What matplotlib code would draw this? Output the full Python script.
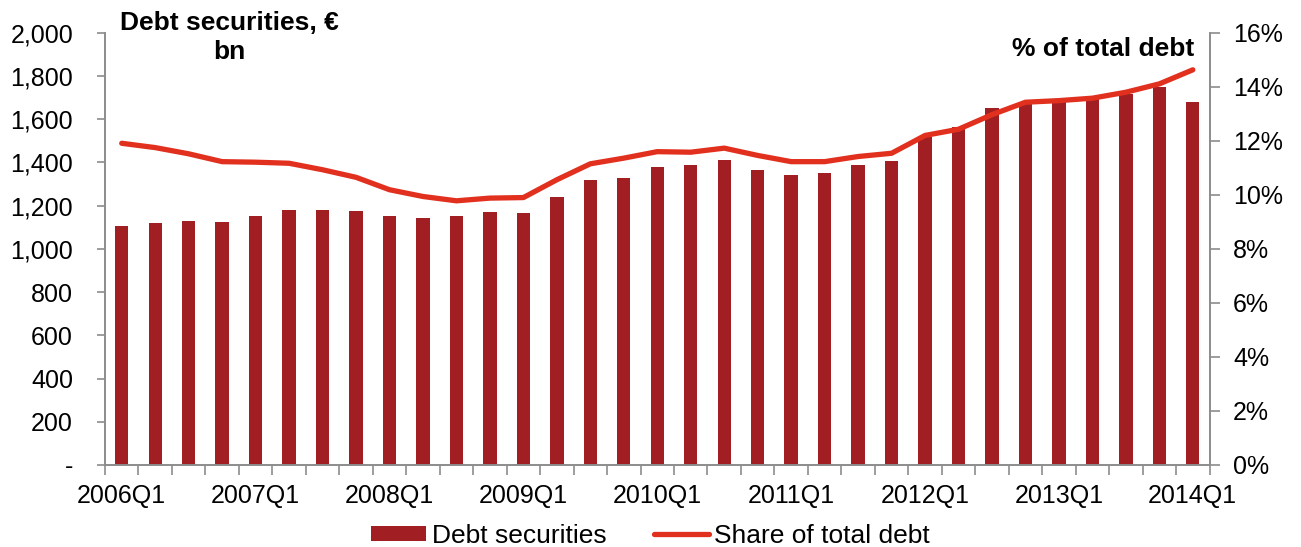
import matplotlib.pyplot as plt
import numpy as np
from matplotlib.ticker import FuncFormatter

plt.rcParams['font.family'] = ['Liberation Sans', 'DejaVu Sans']

# ------------------------- Data -------------------------

quarters = [f"{y}Q{q}" for y in range(2006, 2014) for q in range(1, 5)] + ["2014Q1"]

debt_securities = [1106, 1122, 1127, 1125, 1150, 1181, 1181, 1176, 1154, 1143, 1150,
                   1173, 1167, 1239, 1318, 1326, 1380, 1389, 1412, 1363, 1341, 1349,
                   1386, 1409, 1517, 1563, 1651, 1672, 1680, 1698, 1718, 1748, 1682]

share_total = [11.91, 11.75, 11.52, 11.23, 11.21, 11.17, 10.93, 10.65, 10.19, 9.94, 9.78,
               9.88, 9.90, 10.56, 11.15, 11.36, 11.60, 11.58, 11.73, 11.46, 11.23, 11.23,
               11.42, 11.54, 12.20, 12.43, 12.97, 13.43, 13.49, 13.58, 13.80, 14.11, 14.63]

bar_col = "#A11F22"
line_col = "#E2301F"
grey = "#8C8C8C"
fs = 18

# ------------------------- Plot -------------------------

fig = plt.figure(figsize=(13.01, 5.47), dpi=100)
ax = fig.add_axes([0.0807, 0.150, 0.849, 0.790])
ax2 = ax.twinx()

x = np.arange(len(quarters))
bars = ax.bar(x, debt_securities, width=0.4, color=bar_col, label="Debt securities", zorder=2)
line, = ax2.plot(x, share_total, color=line_col, lw=3.8, solid_capstyle='round',
                 label="Share of total debt", zorder=3)

ax.set_xlim(-0.5, len(quarters) - 0.5)
ax.set_ylim(0, 2000)
ax2.set_ylim(0, 16)

ax.set_yticks(np.arange(0, 2001, 200))
ax.yaxis.set_major_formatter(FuncFormatter(lambda v, p: "-" if v == 0 else f"{v:,.0f}"))
ax2.set_yticks(np.arange(0, 17, 2))
ax2.yaxis.set_major_formatter(FuncFormatter(lambda v, p: f"{v:.0f}%"))

ax.set_xticks(x[::4])
ax.set_xticklabels(quarters[::4])
ax.set_xticks(np.arange(-0.5, len(quarters), 1), minor=True)
ax.tick_params(axis='x', which='major', length=0, pad=14, labelsize=fs)
ax.tick_params(axis='x', which='minor', length=7, width=1.2, color=grey)
ax.tick_params(axis='y', length=6, width=1.2, color=grey, labelsize=fs, pad=17)
ax2.tick_params(axis='y', length=7, width=1.2, color=grey, labelsize=fs, pad=10)

for a in (ax, ax2):
    a.spines['top'].set_visible(False)
    for s in ('left', 'right', 'bottom'):
        a.spines[s].set_color(grey)
        a.spines[s].set_linewidth(1.2)

# axis titles inside the plot
ax.text(0.113, 1.05, "Debt securities, €\nbn", transform=ax.transAxes, ha='center', va='top',
        fontsize=19, fontweight='bold', linespacing=1.25)
ax2.text(0.986, 0.99, "% of total debt", transform=ax2.transAxes, ha='right', va='top',
         fontsize=19, fontweight='bold')

fig.legend(handles=[bars, line], loc='lower center', bbox_to_anchor=(0.5, -0.045), ncol=2,
           frameon=False, fontsize=19, handlelength=2.1, handleheight=0.5, handletextpad=0.2,
           columnspacing=1.8)

fig.savefig("out.png", dpi=100)
